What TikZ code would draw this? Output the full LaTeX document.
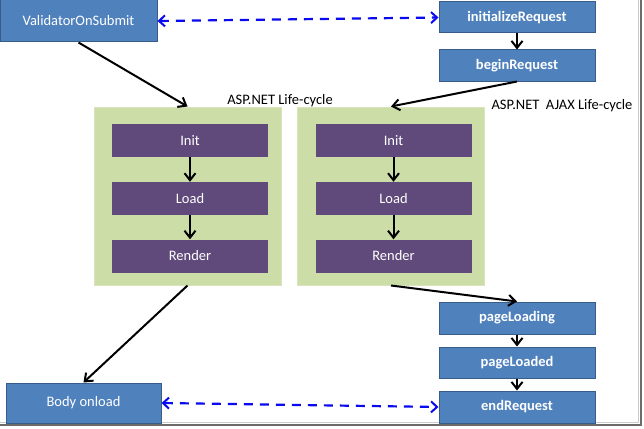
\documentclass[tikz,border=0pt]{standalone}
\usepackage{fontspec}
\setmainfont{Carlito}
\usetikzlibrary{arrows.meta}
\definecolor{boxblue}{RGB}{79,129,189}
\definecolor{boxblueedge}{RGB}{56,93,138}
\definecolor{lifegreen}{RGB}{205,221,168}
\definecolor{lifegreenedge}{RGB}{215,228,189}
\definecolor{stagepurple}{RGB}{96,74,123}
\definecolor{dashblue}{RGB}{10,10,240}
\begin{document}
\begin{tikzpicture}[x=1pt,y=-1pt,
  every node/.style={font=\fontsize{14.5}{16}\selectfont},
  boldlabel/.style={font=\fontsize{14.5}{16}\selectfont\bfseries},
  bluebox/.style={draw=boxblueedge,line width=1pt,fill=boxblue,text=white,inner sep=0pt,minimum width=156pt},
  greenbox/.style={draw=lifegreenedge,line width=1pt,fill=lifegreen,inner sep=0pt,minimum width=187pt,minimum height=178pt},
  purplebox/.style={fill=stagepurple,text=white,inner sep=0pt,minimum width=156pt,minimum height=33pt},
  flow/.style={line width=2pt,-{Straight Barb[length=7pt,width=11pt,line width=2pt]}},
  dashlink/.style={draw=dashblue,line width=2.2pt,dash pattern=on 9pt off 7pt,{Straight Barb[length=6pt,width=11pt,line width=2pt]}-{Straight Barb[length=6pt,width=11pt,line width=2pt]}},
  caption/.style={inner sep=0pt}
]
\useasboundingbox (0,0) rectangle (644,428);
\fill[white] (0,0) rectangle (644,428);
% frame of the screenshot
\draw[gray!40,line width=1pt] (638.5,0) -- (638.5,422.5) -- (0,422.5);
\draw[gray!85!black,line width=2pt] (641,0) -- (641,424.5) -- (0,424.5);

% blue boxes
\node[bluebox,minimum width=157pt,minimum height=42pt] (vos) at (78.5,21) {ValidatorOnSubmit};
\node[bluebox,boldlabel,minimum height=31pt] (ini) at (517,17.5) {initializeRequest};
\node[bluebox,boldlabel,minimum height=31pt] (beg) at (517,65.5) {beginRequest};
\node[bluebox,boldlabel,minimum height=32pt] (pl) at (517,318) {pageLoading};
\node[bluebox,boldlabel,minimum height=31pt] (pld) at (517,362.5) {pageLoaded};
\node[bluebox,boldlabel,minimum height=32pt] (er) at (517,407) {endRequest};
\node[bluebox,minimum width=155pt,minimum height=40pt] (body) at (83.5,403) {Body onload};

% green life-cycle boxes
\node[greenbox] (gl) at (187.5,196) {};
\node[greenbox] (gr) at (391,196) {};
\node[caption] (capl) at (280,100.5) {ASP.NET Life-cycle};
\node[caption] (capr) at (562,106) {ASP.NET\ \ AJAX Life-cycle};

% purple stages
\node[purplebox] (li) at (190,140.5) {Init};
\node[purplebox] (ll) at (190,198.5) {Load};
\node[purplebox] (lr) at (190,256) {Render};
\node[purplebox] (ri) at (393.5,140.5) {Init};
\node[purplebox] (rl) at (393.5,198.5) {Load};
\node[purplebox] (rr) at (393.5,256) {Render};

% connectors
\draw[flow] (li) -- (ll);
\draw[flow] (ll) -- (lr);
\draw[flow] (ri) -- (rl);
\draw[flow] (rl) -- (rr);
\draw[flow] (ini) -- (beg);
\draw[flow] (pl) -- (pld);
\draw[flow] (pld) -- (er);
\draw[flow] (vos.south) -- (gl.north);
\draw[flow] (beg.south) -- (gr.north);
\draw[flow] (gl.south) -- (body.north);
\draw[flow] (gr.south) -- (pl.north);
\draw[dashlink] (vos.east) -- (ini.west);
\draw[dashlink] (body.east) -- (er.west);
\end{tikzpicture}
\end{document}
